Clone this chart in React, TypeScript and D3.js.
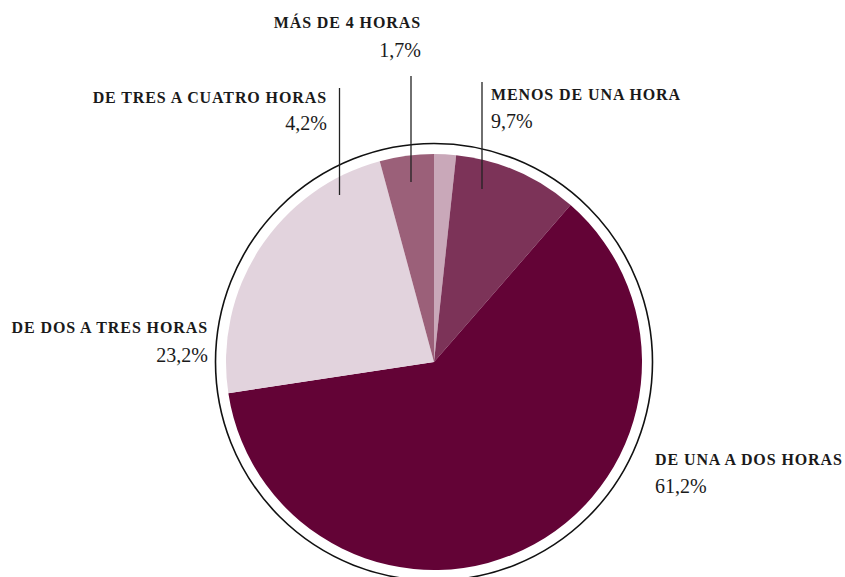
import React from "react";
import * as d3 from "d3";

const categories = [
  "más de 4 horas",
  "menos de una hora",
  "de una a dos horas",
  "de dos a tres horas",
  "de tres a cuatro horas",
];
// order of slices clockwise from 12 o'clock (as drawn)
const sliceValues = [1.7, 9.7, 61.2, 23.2, 4.2];
const sliceColors = ["#c9a8b9", "#7c3358", "#630336", "#e2d3dd", "#9b6079"];

// labels as printed in the reference
const labelTexts = [
  "más de 4 horas",
  "de tres a cuatro horas",
  "menos de una hora",
  "de dos a tres horas",
  "de una a dos horas",
];
const labelValues = ["1,7%", "4,2%", "9,7%", "23,2%", "61,2%"];

// layout of the annotations (positions, anchors, leader lines)
const labelLayout = [
  { x: 421, y1: 28, y2: 57, anchor: "end", line: [411, 76, 182] },
  { x: 327, y1: 103, y2: 130, anchor: "end", line: [339.5, 88, 195] },
  { x: 491, y1: 100, y2: 128, anchor: "start", line: [482, 82, 189] },
  { x: 208, y1: 333, y2: 362, anchor: "end", line: null },
  { x: 655, y1: 465, y2: 493, anchor: "start", line: null },
];

const W = 845;
const H = 577;
const cx = 434;
const cy = 362;
const R = 208;
const ringR = 218.5;
const SERIF = "'Liberation Serif', 'Times New Roman', serif";

export default function App() {
  const pie = d3
    .pie<number>()
    .sort(null)
    .value((d) => d)
    .startAngle(0)
    .endAngle(2 * Math.PI);
  const arcs = pie(sliceValues);
  const arc = d3.arc<d3.PieArcDatum<number>>().innerRadius(0).outerRadius(R);

  return (
    <div style={{ position: "absolute", left: 0, top: 0 }}>
      <svg width={W} height={H} style={{ display: "block", background: "#fff" }}>
        <circle cx={cx} cy={cy} r={ringR} fill="none" stroke="#111" strokeWidth={1.6} />
        <g transform={`translate(${cx},${cy})`}>
          {arcs.map((a, i) => (
            <path key={categories[i]} d={arc(a) || ""} fill={sliceColors[i]} />
          ))}
        </g>
        {labelLayout.map((l, i) => (
          <g key={labelTexts[i]}>
            {l.line && (
              <line
                x1={l.line[0]}
                x2={l.line[0]}
                y1={l.line[1]}
                y2={l.line[2]}
                stroke="#222"
                strokeWidth={1.3}
              />
            )}
            <text
              x={l.x}
              y={l.y1}
              textAnchor={l.anchor}
              fontFamily={SERIF}
              fontWeight={700}
              fontSize={16}
              letterSpacing={0.9}
              fill="#1a1a1a"
            >
              {labelTexts[i].toUpperCase()}
            </text>
            <text
              x={l.x}
              y={l.y2}
              textAnchor={l.anchor}
              fontFamily={SERIF}
              fontSize={20}
              fill="#1a1a1a"
            >
              {labelValues[i]}
            </text>
          </g>
        ))}
      </svg>
    </div>
  );
}
